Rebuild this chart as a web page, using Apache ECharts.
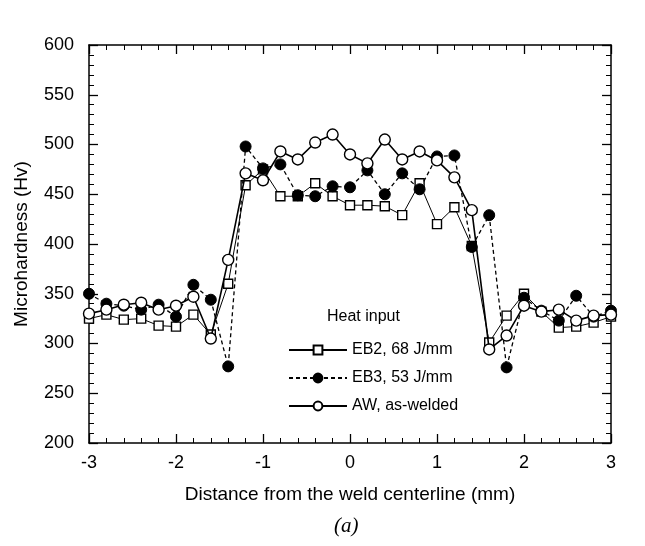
<!DOCTYPE html>
<html>
<head>
<meta charset="utf-8">
<script src="https://cdn.jsdelivr.net/npm/echarts@6/dist/echarts.min.js"></script>
<style>
  html, body { margin: 0; padding: 0; background: #fff; }
  #chart { width: 645px; height: 546px; }
</style>
</head>
<body>
<div id="chart"></div>
<script>
// Distance from the weld centerline (mm)
const distance = [-3, -2.8, -2.6, -2.4, -2.2, -2.0, -1.8, -1.6, -1.4, -1.2, -1.0, -0.8, -0.6, -0.4, -0.2,
                  0, 0.2, 0.4, 0.6, 0.8, 1.0, 1.2, 1.4, 1.6, 1.8, 2.0, 2.2, 2.4, 2.6, 2.8, 3.0];

// Microhardness (Hv) profiles
const eb2 = [325, 329, 324, 325, 318, 317, 329, 309, 360, 459, 475, 448, 448, 461, 448,
             439, 439, 438, 429, 461, 420, 437, 398, 301, 328, 350, 332, 316, 317, 321, 327];
const eb3 = [350, 340, 338, 334, 339, 327, 359, 344, 277, 498, 476, 480, 449, 448, 458,
             457, 474, 450, 471, 455, 488, 489, 397, 429, 276, 346, 333, 323, 348, 327, 333];
const aw  = [330, 334, 339, 341, 334, 338, 347, 305, 384, 471, 464, 493, 485, 502, 510,
             490, 481, 505, 485, 493, 484, 467, 434, 294, 308, 338, 332, 334, 323, 328, 329];

const seriesNames = ['EB2, 68 J/mm', 'EB3, 53 J/mm', 'AW, as-welded'];
const xTicks = [-3, -2, -1, 0, 1, 2, 3];
const yTicks = [200, 250, 300, 350, 400, 450, 500, 550, 600];

const pairs = (ys) => distance.map((x, i) => [x, ys[i]]);

const FONT = '"Liberation Sans", Arial, Helvetica, sans-serif';
const chart = echarts.init(document.getElementById('chart'));

const axisCommon = {
  type: 'value',
  axisLine: { show: true, onZero: false, lineStyle: { color: '#000', width: 1.5 } },
  axisTick: { show: true, inside: true, length: 9, lineStyle: { color: '#000', width: 1.3 } },
  minorTick: { show: true, splitNumber: 5, length: 5, lineStyle: { color: '#000', width: 1 } },
  splitLine: { show: false }
};

chart.setOption({
  backgroundColor: '#fff',
  animation: false,
  grid: { left: 89, right: 34, top: 45, bottom: 103 },
  xAxis: [
    Object.assign({}, axisCommon, {
      min: xTicks[0], max: xTicks[xTicks.length - 1], interval: 1,
      position: 'bottom',
      name: 'Distance from the weld centerline (mm)',
      nameLocation: 'middle', nameGap: 42,
      nameTextStyle: { fontFamily: FONT, fontSize: 19, color: '#000' },
      axisLabel: { margin: 11, fontFamily: FONT, fontSize: 18, color: '#000' }
    }),
    Object.assign({}, axisCommon, {
      min: xTicks[0], max: xTicks[xTicks.length - 1], interval: 1,
      position: 'top', axisLabel: { show: false }
    })
  ],
  yAxis: [
    Object.assign({}, axisCommon, {
      min: yTicks[0], max: yTicks[yTicks.length - 1], interval: 50,
      position: 'left',
      name: 'Microhardness (Hv)',
      nameLocation: 'middle', nameGap: 58,
      nameTextStyle: { fontFamily: FONT, fontSize: 19, color: '#000' },
      axisLabel: { margin: 15, fontFamily: FONT, fontSize: 18, color: '#000' }
    }),
    Object.assign({}, axisCommon, {
      min: yTicks[0], max: yTicks[yTicks.length - 1], interval: 50,
      position: 'right', axisLabel: { show: false }
    })
  ],
  legend: {
    orient: 'vertical',
    left: 283, top: 337,
    itemWidth: 58, itemHeight: 11, itemGap: 12,
    textStyle: { fontFamily: FONT, fontSize: 16, color: '#000' },
    data: seriesNames
  },
  graphic: [
    {
      type: 'text', left: 327, top: 309,
      style: { text: 'Heat input', font: '16px ' + FONT, fill: '#000' }
    },
    {
      type: 'text', left: 334, top: 516,
      style: { text: '(a)', font: 'italic 21px "Liberation Serif", "Times New Roman", serif', fill: '#000' }
    }
  ],
  series: [
    {
      name: seriesNames[0], type: 'line', data: pairs(eb2),
      symbol: 'rect', symbolSize: 9,
      lineStyle: { color: '#000', width: 1, type: 'solid' },
      itemStyle: { color: '#fff', borderColor: '#000', borderWidth: 1.4 },
      z: 3
    },
    {
      name: seriesNames[1], type: 'line', data: pairs(eb3),
      symbol: 'circle', symbolSize: 11,
      lineStyle: { color: '#000', width: 1.3, type: [4, 3] },
      itemStyle: { color: '#000', borderColor: '#000', borderWidth: 1 },
      z: 4
    },
    {
      name: seriesNames[2], type: 'line', data: pairs(aw),
      symbol: 'circle', symbolSize: 11,
      lineStyle: { color: '#000', width: 1.6, type: 'solid' },
      itemStyle: { color: '#fff', borderColor: '#000', borderWidth: 1.4 },
      z: 5
    }
  ]
});
</script>
</body>
</html>
